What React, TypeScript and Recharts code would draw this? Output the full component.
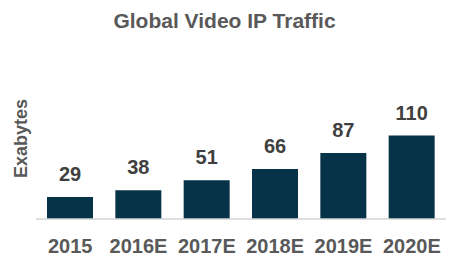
import React from "react";
import { Bar, BarChart, LabelList, XAxis, YAxis } from "recharts";

const years = ["2015", "2016E", "2017E", "2018E", "2019E", "2020E"];
const exabytes = [29, 38, 51, 66, 87, 110];

const FONT = '"Liberation Sans", Arial, sans-serif';

export default function App() {
  const data = years.map((year, i) => ({ year, value: exabytes[i] }));

  return (
    <div style={{ position: "absolute", left: 0, top: 0, width: 449, height: 256, background: "#fff", fontFamily: FONT }}>
      <BarChart width={449} height={256} data={data} margin={{ top: 128, right: 3, left: 0, bottom: 0 }}>
        <YAxis width={36} domain={[0, 120]} axisLine={false} tickLine={false} tick={false} />
        <XAxis
          dataKey="year"
          height={37}
          axisLine={{ stroke: "#d4d4d4", strokeWidth: 1.5 }}
          tickLine={false}
          tickSize={0}
          tickMargin={20}
          interval={0}
          tick={{ fontSize: 20, fontWeight: 700, fill: "#595959", fontFamily: FONT }}
        />
        <Bar dataKey="value" fill="#073349" barSize={46} isAnimationActive={false}>
          <LabelList
            dataKey="value"
            position="top"
            offset={16}
            style={{ fontSize: 20, fontWeight: 700, fill: "#404040", fontFamily: FONT }}
          />
        </Bar>
      </BarChart>
      {/* title and axis label sit outside the plot, so draw them on top */}
      <svg width={449} height={256} style={{ position: "absolute", left: 0, top: 0, pointerEvents: "none" }}>
        <text x={224.5} y={27.5} textAnchor="middle" fontSize={21} fontWeight={700} fill="#595959" fontFamily={FONT}>
          Global Video IP Traffic
        </text>
        <text
          x={27}
          y={138.5}
          transform="rotate(-90, 27, 138.5)"
          textAnchor="middle"
          fontSize={18}
          fontWeight={700}
          fill="#595959"
          fontFamily={FONT}
        >
          Exabytes
        </text>
      </svg>
    </div>
  );
}
